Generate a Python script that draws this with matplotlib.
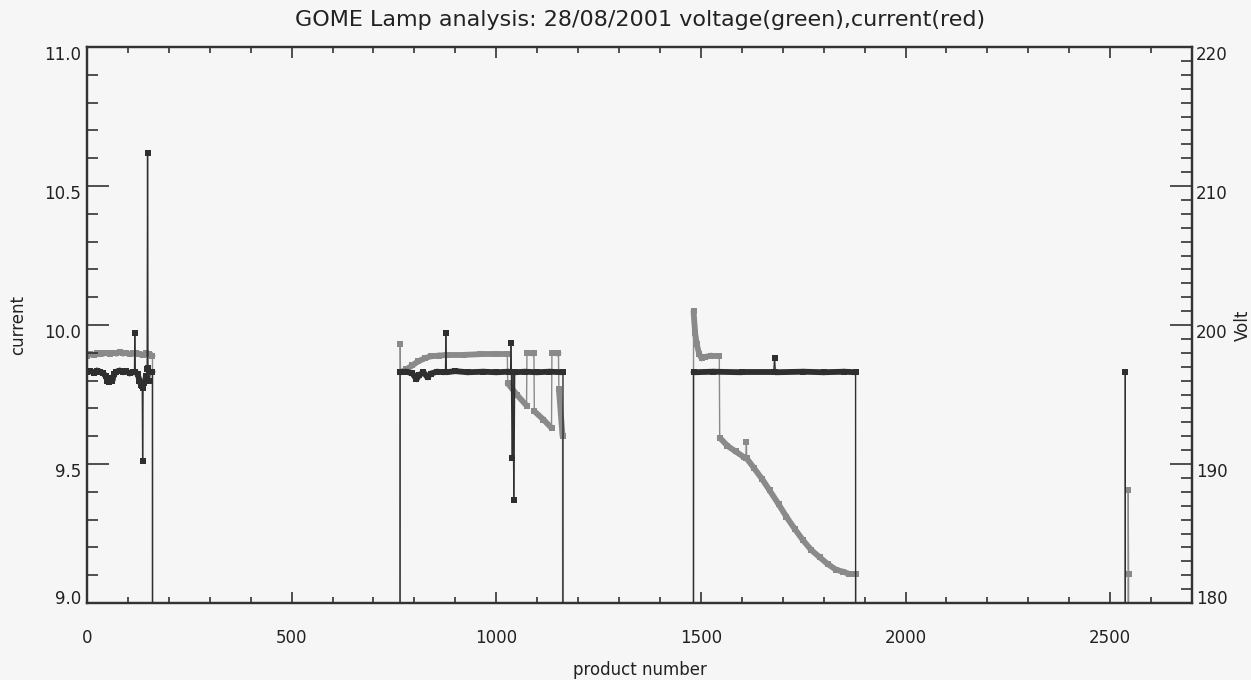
import numpy as np
import matplotlib
matplotlib.use("Agg")
import matplotlib.pyplot as plt
from matplotlib.collections import LineCollection
from matplotlib.ticker import MultipleLocator
from matplotlib.transforms import ScaledTranslation

# lamp current (A) per product number, 0 where the lamp is off
current_prod = [0, 8, 16, 24, 32, 40, 46, 50, 54, 58, 62, 66, 72, 80, 88, 96, 104, 112,
                116, 117, 118, 124, 128, 132, 135, 136, 137, 140, 144, 147, 148, 149,
                152, 155, 160, 161,
                764, 765, 780, 795, 805, 812, 822, 832, 840, 855, 872, 876, 877, 878,
                900, 930, 968, 1000, 1030, 1035, 1036, 1037, 1039, 1041, 1043, 1045,
                1070, 1100, 1130, 1163, 1164,
                1481, 1482, 1530, 1600, 1678, 1680, 1682, 1750, 1800, 1850, 1878, 1879,
                2536, 2537, 2538, 2700]
current_amp = [9.830, 9.835, 9.828, 9.836, 9.832, 9.826, 9.815, 9.800, 9.795, 9.810,
               9.800, 9.822, 9.832, 9.836, 9.830, 9.834, 9.826, 9.830,
               9.830, 9.970, 9.830, 9.824, 9.800, 9.785, 9.780, 9.510, 9.775, 9.790,
               9.815, 9.840, 10.620, 9.845, 9.800, 9.830, 9.832, 0.0,
               0.0, 9.830, 9.832, 9.826, 9.805, 9.820, 9.830, 9.812, 9.825, 9.832,
               9.830, 9.830, 9.970, 9.830,
               9.834, 9.830, 9.832, 9.830, 9.832, 9.830, 9.935, 9.830, 9.520, 9.830,
               9.370, 9.830, 9.832, 9.830, 9.832, 9.830, 0.0,
               0.0, 9.830, 9.832, 9.830, 9.830, 9.880, 9.830, 9.832, 9.830, 9.832,
               9.830, 0.0,
               0.0, 9.830, 0.0, 0.0]

# lamp voltage (V) per product number
voltage_prod = [0, 8, 16, 24, 32, 40, 48, 56, 64, 72, 80, 88, 96, 104, 112, 120, 128,
                136, 144, 152, 160, 161,
                764, 765, 766, 780, 795, 810, 825, 840, 860, 880, 920, 960, 1000, 1027,
                1028, 1050, 1074, 1075, 1092, 1093, 1115, 1135, 1136, 1152, 1153, 1162,
                1163,
                1481, 1482, 1486, 1490, 1496, 1502, 1510, 1525, 1545, 1546, 1565, 1585,
                1605, 1610, 1611, 1612, 1630, 1650, 1668, 1690, 1709, 1730, 1750, 1770,
                1790, 1810, 1830, 1847, 1862, 1878, 1879,
                2543, 2544, 2545, 2546, 2700]
voltage_volt = [197.80, 197.90, 197.85, 197.95, 197.90, 197.95, 198.00, 197.90, 198.00,
                197.95, 198.05, 197.95, 198.00, 197.90, 197.95, 198.00, 197.90, 197.85,
                197.95, 197.90, 197.80, 0.0,
                0.0, 198.60, 196.60, 196.80, 197.10, 197.40, 197.60, 197.75, 197.80,
                197.85, 197.85, 197.90, 197.90, 197.90,
                195.80, 195.00, 194.20, 198.00, 197.95, 193.80, 193.20, 192.60, 198.00,
                197.95, 195.40, 192.00, 0.0,
                0.0, 201.00, 199.40, 198.60, 197.90, 197.60, 197.70, 197.80, 197.80,
                191.90, 191.30, 190.90, 190.50, 190.40, 191.60, 190.40, 189.70, 188.90,
                188.10, 187.10, 186.20, 185.30, 184.50, 183.80, 183.30, 182.80, 182.40,
                182.25, 182.10, 182.10, 0.0,
                0.0, 188.10, 182.10, 0.0, 0.0]

x_major = [0, 500, 1000, 1500, 2000, 2500]
amp_major = [9.0, 9.5, 10.0, 10.5, 11.0]
volt_major = [180, 190, 200, 210, 220]

DARK = "#2f2f2f"
GREY = "#8a8a8a"
BG = "#f6f6f6"


def draw_trace(axis, x, y, color):
    # dense runs of products render as a thick band, jumps as hairlines
    x = np.asarray(x, dtype=float)
    y = np.asarray(y, dtype=float)
    pts = np.column_stack([x, y])
    segs = np.stack([pts[:-1], pts[1:]], axis=1)
    widths = np.where(np.diff(x) >= 4, 4.2, 1.0)
    lc = LineCollection(segs, linewidths=widths, colors=color, capstyle="round")
    axis.add_collection(lc)
    axis.plot(x, y, ls="none", marker="s", ms=3.8, mew=0, color=color)


fig = plt.figure(figsize=(12.51, 6.80), dpi=100, facecolor=BG)
ax = fig.add_axes([87 / 1251, 77 / 680, 1105 / 1251, 556 / 680])
ax2 = ax.twinx()
ax.set_zorder(2)
ax.patch.set_visible(False)
ax2.set_facecolor(BG)

draw_trace(ax2, voltage_prod, voltage_volt, GREY)
draw_trace(ax, current_prod, current_amp, DARK)

ax.set_xlim(0, 2700)
ax.set_ylim(9.0, 11.0)
ax2.set_ylim(180, 220)

ax.set_xticks(x_major)
ax.xaxis.set_minor_locator(MultipleLocator(100))
ax.set_yticks(amp_major)
ax.set_yticklabels(["%.1f" % v for v in amp_major])
ax.yaxis.set_minor_locator(MultipleLocator(0.1))
ax2.set_yticks(volt_major)
ax2.yaxis.set_minor_locator(MultipleLocator(1))

for a in (ax, ax2):
    for s in a.spines.values():
        s.set_linewidth(1.6)
        s.set_color("#333333")

ax.tick_params(axis="x", which="both", direction="in", top=True, bottom=True,
               color="#333333", width=1.2, labelsize=12, pad=19, labelcolor="#222222")
ax.tick_params(axis="x", which="major", length=8)
ax.tick_params(axis="x", which="minor", length=4)
ax.tick_params(axis="y", which="both", direction="in", right=False,
               color="#333333", width=1.2, labelsize=12, pad=4, labelcolor="#222222")
ax.tick_params(axis="y", which="major", length=16)
ax.tick_params(axis="y", which="minor", length=8)
ax2.tick_params(axis="y", which="both", direction="in", color="#333333", width=1.2,
                labelsize=12, pad=3, labelcolor="#222222")
ax2.tick_params(axis="y", which="major", length=16)
ax2.tick_params(axis="y", which="minor", length=8)

# y labels sit a little below their ticks, the bottom one a little above
for a in (ax, ax2):
    labels = a.get_yticklabels()
    for i, lab in enumerate(labels):
        dy = 6 if i == 0 else -6
        lab.set_transform(lab.get_transform() + ScaledTranslation(0, dy / 100, fig.dpi_scale_trans))

ax.set_xlabel("product number", fontsize=12, color="#222222")
ax.xaxis.set_label_coords(0.5, -0.12)
ax.xaxis.label.set_va("center")
ax.set_ylabel("current", fontsize=12, color="#222222")
ax.yaxis.set_label_coords(-0.062, 0.5)
ax.yaxis.label.set_va("center")
ax2.set_ylabel("Volt", fontsize=12, color="#222222")
ax2.yaxis.set_label_coords(1.046, 0.5)
ax2.yaxis.label.set_va("center")

fig.text(640 / 1251, 1 - 20 / 680, "GOME Lamp analysis: 28/08/2001 voltage(green),current(red)",
         ha="center", va="center", fontsize=16, color="#222222")

fig.savefig("out.png", dpi=100, facecolor=BG)
